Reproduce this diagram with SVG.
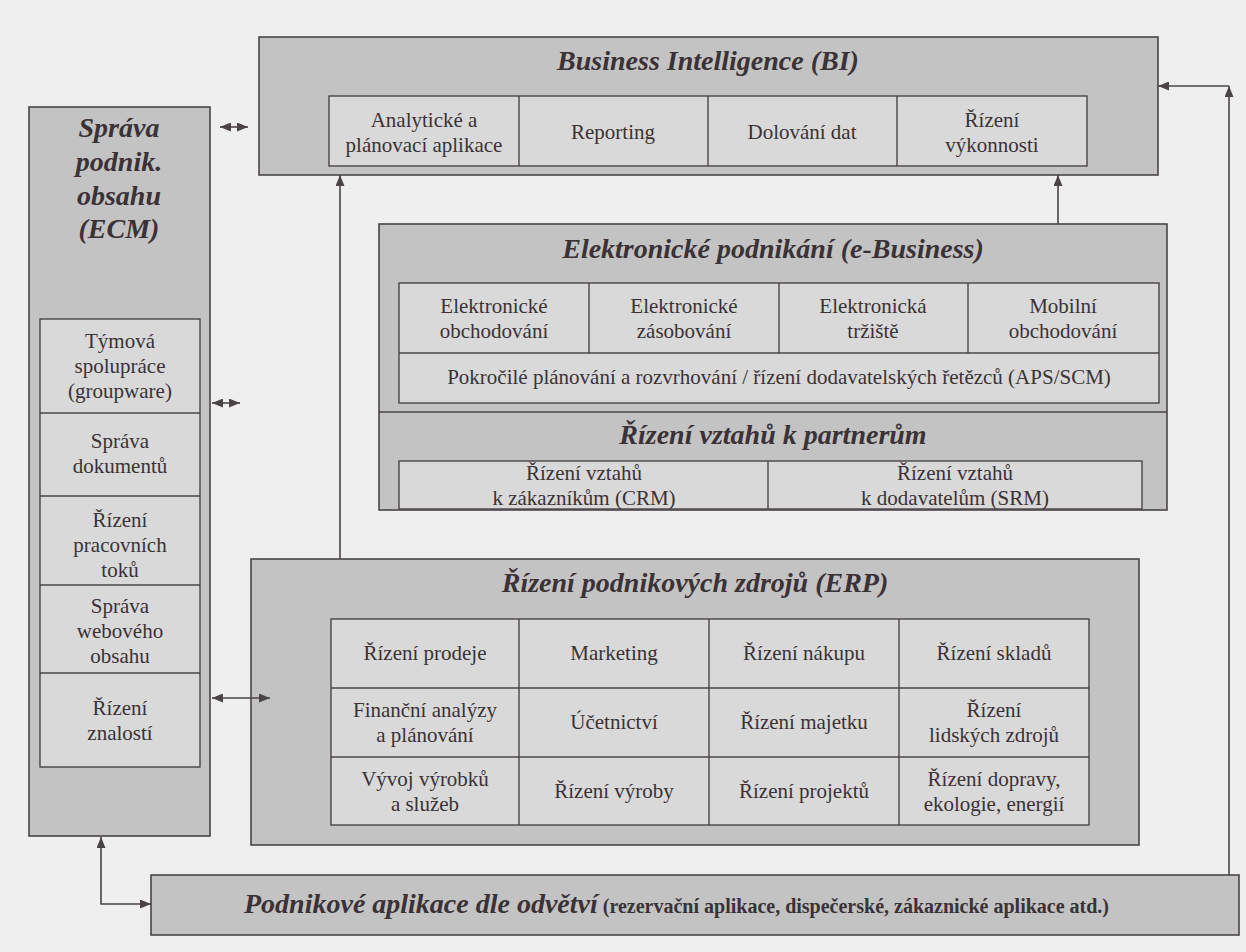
<svg xmlns="http://www.w3.org/2000/svg" width="1246" height="952" viewBox="0 0 1246 952">
  <style>
    .box { fill: #c3c3c3; stroke: #4a4448; stroke-width: 1.6; }
    .cell { fill: #d9d9d9; stroke: #4a4448; stroke-width: 1.4; }
    .sep { stroke: #4a4448; stroke-width: 1.4; fill: none; }
    .title { font-family: "Liberation Serif", "Times New Roman", serif; font-weight: bold; font-style: italic; font-size: 28px; fill: #3a3236; text-anchor: middle; }
    .t { font-family: "Liberation Serif", "Times New Roman", serif; font-size: 21px; fill: #3a3236; text-anchor: middle; }
    .conn { stroke: #4a4448; stroke-width: 1.6; fill: none; }
  </style>
  <defs>
    <marker id="ah" viewBox="0 0 11 9" markerUnits="userSpaceOnUse" markerWidth="11" markerHeight="9" refX="11" refY="4.5" orient="auto-start-reverse">
      <path d="M0,0 L11,4.5 L0,9 z" fill="#4a4448"/>
    </marker>
  </defs>

  <rect x="0" y="0" width="1246" height="952" fill="#efefef"/>

  <!-- Business Intelligence -->
  <g id="bi">
    <rect class="box" x="259" y="37" width="899" height="138"/>
    <text class="title" x="708" y="70">Business Intelligence (BI)</text>
    <rect class="cell" x="329" y="96" width="758" height="70"/>
    <line class="sep" x1="519" y1="96" x2="519" y2="166"/>
    <line class="sep" x1="708" y1="96" x2="708" y2="166"/>
    <line class="sep" x1="897" y1="96" x2="897" y2="166"/>
    <text class="t" x="424" y="127">Analytické a</text>
    <text class="t" x="424" y="152">plánovací aplikace</text>
    <text class="t" x="613" y="139">Reporting</text>
    <text class="t" x="802" y="139">Dolování dat</text>
    <text class="t" x="992" y="127">Řízení</text>
    <text class="t" x="992" y="152">výkonnosti</text>
  </g>

  <!-- Enterprise content management -->
  <g id="ecm">
    <rect class="box" x="29" y="107" width="181" height="729"/>
    <text class="title" x="119" y="137">Správa</text>
    <text class="title" x="119" y="171">podnik.</text>
    <text class="title" x="119" y="205">obsahu</text>
    <text class="title" x="119" y="238">(ECM)</text>
    <rect class="cell" x="40" y="319" width="160" height="448"/>
    <line class="sep" x1="40" y1="413" x2="200" y2="413"/>
    <line class="sep" x1="40" y1="496" x2="200" y2="496"/>
    <line class="sep" x1="40" y1="585" x2="200" y2="585"/>
    <line class="sep" x1="40" y1="673" x2="200" y2="673"/>
    <text class="t" x="120" y="348">Týmová</text>
    <text class="t" x="120" y="373">spolupráce</text>
    <text class="t" x="120" y="398">(groupware)</text>
    <text class="t" x="120" y="448">Správa</text>
    <text class="t" x="120" y="473">dokumentů</text>
    <text class="t" x="120" y="527">Řízení</text>
    <text class="t" x="120" y="552">pracovních</text>
    <text class="t" x="120" y="577">toků</text>
    <text class="t" x="120" y="613">Správa</text>
    <text class="t" x="120" y="638">webového</text>
    <text class="t" x="120" y="663">obsahu</text>
    <text class="t" x="120" y="715">Řízení</text>
    <text class="t" x="120" y="740">znalostí</text>
  </g>

  <!-- e-Business and partner relationship management -->
  <g id="ebusiness">
    <rect class="box" x="379" y="224" width="788" height="286"/>
    <text class="title" x="773" y="258">Elektronické podnikání (e-Business)</text>
    <rect class="cell" x="399" y="283" width="760" height="120"/>
    <line class="sep" x1="399" y1="353" x2="1159" y2="353"/>
    <line class="sep" x1="589" y1="283" x2="589" y2="353"/>
    <line class="sep" x1="779" y1="283" x2="779" y2="353"/>
    <line class="sep" x1="968" y1="283" x2="968" y2="353"/>
    <text class="t" x="494" y="313">Elektronické</text>
    <text class="t" x="494" y="338">obchodování</text>
    <text class="t" x="684" y="313">Elektronické</text>
    <text class="t" x="684" y="338">zásobování</text>
    <text class="t" x="873" y="313">Elektronická</text>
    <text class="t" x="873" y="338">tržiště</text>
    <text class="t" x="1063" y="313">Mobilní</text>
    <text class="t" x="1063" y="338">obchodování</text>
    <text class="t" x="779" y="384">Pokročilé plánování a rozvrhování / řízení dodavatelských řetězců (APS/SCM)</text>
  </g>
  <g id="partners">
    <line class="sep" x1="379" y1="412" x2="1167" y2="412"/>
    <text class="title" x="773" y="444">Řízení vztahů k partnerům</text>
    <rect class="cell" x="399" y="461" width="743" height="48"/>
    <line class="sep" x1="768" y1="461" x2="768" y2="509"/>
    <text class="t" x="584" y="480">Řízení vztahů</text>
    <text class="t" x="584" y="505">k zákazníkům (CRM)</text>
    <text class="t" x="955" y="480">Řízení vztahů</text>
    <text class="t" x="955" y="505">k dodavatelům (SRM)</text>
  </g>

  <!-- Enterprise resource planning -->
  <g id="erp">
    <rect class="box" x="251" y="559" width="888" height="286"/>
    <text class="title" x="695" y="592">Řízení podnikových zdrojů (ERP)</text>
    <rect class="cell" x="331" y="619" width="758" height="206"/>
    <line class="sep" x1="331" y1="688" x2="1089" y2="688"/>
    <line class="sep" x1="331" y1="757" x2="1089" y2="757"/>
    <line class="sep" x1="519" y1="619" x2="519" y2="825"/>
    <line class="sep" x1="709" y1="619" x2="709" y2="825"/>
    <line class="sep" x1="899" y1="619" x2="899" y2="825"/>
    <text class="t" x="425" y="660">Řízení prodeje</text>
    <text class="t" x="614" y="660">Marketing</text>
    <text class="t" x="804" y="660">Řízení nákupu</text>
    <text class="t" x="994" y="660">Řízení skladů</text>
    <text class="t" x="425" y="717">Finanční analýzy</text>
    <text class="t" x="425" y="742">a plánování</text>
    <text class="t" x="614" y="729">Účetnictví</text>
    <text class="t" x="804" y="729">Řízení majetku</text>
    <text class="t" x="994" y="717">Řízení</text>
    <text class="t" x="994" y="742">lidských zdrojů</text>
    <text class="t" x="425" y="786">Vývoj výrobků</text>
    <text class="t" x="425" y="811">a služeb</text>
    <text class="t" x="614" y="798">Řízení výroby</text>
    <text class="t" x="804" y="798">Řízení projektů</text>
    <text class="t" x="994" y="786">Řízení dopravy,</text>
    <text class="t" x="994" y="811">ekologie, energií</text>
  </g>

  <!-- Industry-specific applications -->
  <g id="industry">
    <rect class="box" x="151" y="875" width="1088" height="60"/>
    <text x="244" y="913" font-family="&quot;Liberation Serif&quot;, &quot;Times New Roman&quot;, serif" fill="#3a3236"><tspan font-weight="bold" font-style="italic" font-size="28">Podnikové aplikace dle odvětví</tspan><tspan font-weight="bold" font-size="20"> (rezervační aplikace, dispečerské, zákaznické aplikace atd.)</tspan></text>
  </g>

  <!-- Connectors -->
  <g id="connectors">
    <line class="conn" x1="220" y1="127" x2="248" y2="127" marker-start="url(#ah)" marker-end="url(#ah)"/>
    <line class="conn" x1="212" y1="403" x2="240" y2="403" marker-start="url(#ah)" marker-end="url(#ah)"/>
    <line class="conn" x1="212" y1="698" x2="270" y2="698" marker-start="url(#ah)" marker-end="url(#ah)"/>
    <path class="conn" d="M101,837 V904 H151" marker-start="url(#ah)" marker-end="url(#ah)"/>
    <path class="conn" d="M340,559 V175" marker-end="url(#ah)"/>
    <path class="conn" d="M1058,224 V175" marker-end="url(#ah)"/>
    <path class="conn" d="M1229,875 V86" marker-end="url(#ah)"/>
    <path class="conn" d="M1229,86 H1158" marker-end="url(#ah)"/>
  </g>
</svg>
